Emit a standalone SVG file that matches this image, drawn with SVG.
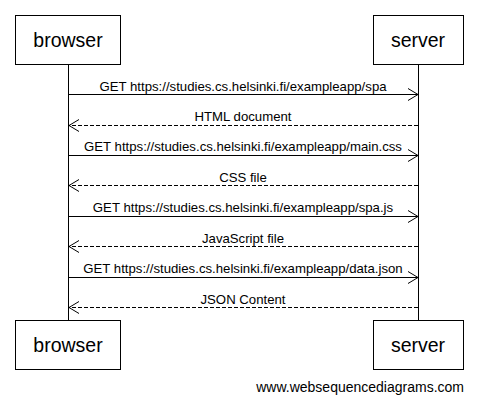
<svg xmlns="http://www.w3.org/2000/svg" width="478" height="403" viewBox="0 0 478 403">
<style>
.box{fill:#fff;stroke:#000;stroke-width:1}
.pt{font-family:"Liberation Sans",Arial,sans-serif;font-size:19.5px;fill:#000;text-anchor:middle}
.mt{font-family:"Liberation Sans",Arial,sans-serif;font-size:13.2px;fill:#000;text-anchor:middle}
.ln{stroke:#000;stroke-width:1;fill:none}
.ds{stroke-dasharray:4,2}
.hd{stroke:#000;stroke-width:1;fill:none}
</style>
<rect width="478" height="403" fill="#fff"/>
<g id="lifelines">
<line class="ln" x1="68.5" y1="64" x2="68.5" y2="320"/>
<line class="ln" x1="418.5" y1="64" x2="418.5" y2="320"/>
</g>
<g id="browser-top"><rect class="box" x="15.5" y="15.5" width="105" height="49"/><text class="pt" x="68" y="47">browser</text></g>
<g id="server-top"><rect class="box" x="373.5" y="15.5" width="90" height="49"/><text class="pt" x="418" y="47">server</text></g>
<g id="browser-bottom"><rect class="box" x="15.5" y="320.5" width="105" height="49"/><text class="pt" x="68" y="352">browser</text></g>
<g id="server-bottom"><rect class="box" x="373.5" y="320.5" width="90" height="49"/><text class="pt" x="418" y="352">server</text></g>
<g id="connectors">
<line class="ln" x1="68.5" y1="94.5" x2="418" y2="94.5"/><path class="hd" d="M408,88.5 L418,94.5 L408,100.5"/>
<text class="mt" x="243" y="90.5">GET https://studies.cs.helsinki.fi/exampleapp/spa</text>
<line class="ln ds" x1="418" y1="125.5" x2="69" y2="125.5"/><path class="hd" d="M79,119.5 L69,125.5 L79,131.5"/>
<text class="mt" x="243" y="121">HTML document</text>
<line class="ln" x1="68.5" y1="155.5" x2="418" y2="155.5"/><path class="hd" d="M408,149.5 L418,155.5 L408,161.5"/>
<text class="mt" x="243" y="151">GET https://studies.cs.helsinki.fi/exampleapp/main.css</text>
<line class="ln ds" x1="418" y1="185.5" x2="69" y2="185.5"/><path class="hd" d="M79,179.5 L69,185.5 L79,191.5"/>
<text class="mt" x="243" y="181.5">CSS file</text>
<line class="ln" x1="68.5" y1="216.5" x2="418" y2="216.5"/><path class="hd" d="M408,210.5 L418,216.5 L408,222.5"/>
<text class="mt" x="243" y="212">GET https://studies.cs.helsinki.fi/exampleapp/spa.js</text>
<line class="ln ds" x1="418" y1="246.5" x2="69" y2="246.5"/><path class="hd" d="M79,240.5 L69,246.5 L79,252.5"/>
<text class="mt" x="243" y="242.5">JavaScript file</text>
<line class="ln" x1="68.5" y1="277.5" x2="418" y2="277.5"/><path class="hd" d="M408,271.5 L418,277.5 L408,283.5"/>
<text class="mt" x="243" y="273">GET https://studies.cs.helsinki.fi/exampleapp/data.json</text>
<line class="ln ds" x1="418" y1="307.5" x2="69" y2="307.5"/><path class="hd" d="M79,301.5 L69,307.5 L79,313.5"/>
<text class="mt" x="243" y="303.5">JSON Content</text>
</g>
<text x="464" y="392" font-family="'Liberation Sans',Arial,sans-serif" font-size="14px" text-anchor="end" fill="#000">www.websequencediagrams.com</text>
</svg>
